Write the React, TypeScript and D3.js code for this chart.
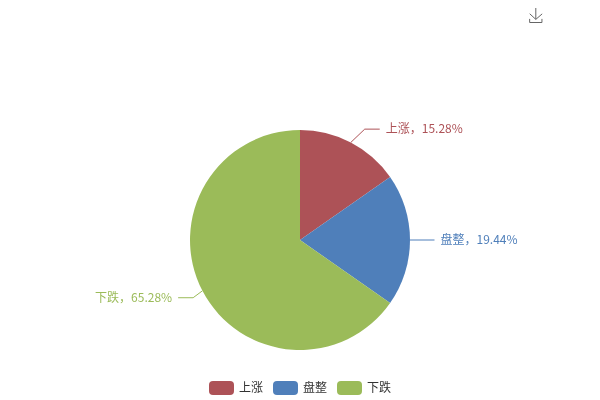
import React from 'react';
import * as d3 from 'd3';

const categories = ['上涨', '盘整', '下跌'];
const percents = [15.28, 19.44, 65.28];
const colors = ['#AD5257', '#4F7FBA', '#9BBB59'];

const width = 600;
const height = 400;
const cx = 300;
const cy = 240;
const radius = 110;
const font = '"Noto Sans CJK SC", "Noto Sans", sans-serif';

// horizontal shift of the elbow against the plain radial spot, and the flat run after it
const elbowShift = [7, 0, -4];
const flatRun = [15, 9.5, 15];

const App = () => {
  const pie = d3.pie<number>().sort(null)(percents);
  const arc = d3.arc<d3.PieArcDatum<number>>().innerRadius(0).outerRadius(radius);

  const legendX = d3.scalePoint<string>().domain(categories).range([209, 337]);

  const linePath = d3.line();

  return (
    <svg
      width={width}
      height={height}
      style={{ position: 'fixed', left: 0, top: 0, willChange: 'transform' }}
      fontFamily={font}
      fontSize={12}
    >
      <g transform={`translate(${cx},${cy})`}>
        {pie.map((d, i) => (
          <path key={categories[i]} d={arc(d) || ''} fill={colors[i]} />
        ))}
        {pie.map((d, i) => {
          const mid = (d.startAngle + d.endAngle) / 2;
          const sx = Math.sin(mid);
          const sy = -Math.cos(mid);
          const dir = sx >= 0 ? 1 : -1;
          const elbowX = sx * (radius + 15) + dir * elbowShift[i];
          const elbowY = sy * (radius + 15);
          const endX = elbowX + dir * flatRun[i];
          return (
            <g key={categories[i]}>
              <path
                d={linePath([
                  [sx * radius, sy * radius],
                  [elbowX, elbowY],
                  [endX, elbowY],
                ]) || ''}
                fill="none"
                stroke={colors[i]}
              />
              <text
                x={endX + dir * 6}
                y={elbowY}
                dy="0.35em"
                textAnchor={dir > 0 ? 'start' : 'end'}
                fill={colors[i]}
              >
                {`${categories[i]}，${percents[i].toFixed(2)}%`}
              </text>
            </g>
          );
        })}
      </g>

      {categories.map((c, i) => (
        <g key={c} transform={`translate(${legendX(c)},381)`}>
          <rect width={25} height={14} rx={4} fill={colors[i]} />
          <text x={30} y={7} dy="0.35em" fill="#333">
            {c}
          </text>
        </g>
      ))}

      {/* save as image icon */}
      <path
        transform="translate(528.5,8) scale(0.25)"
        d="M4.7,22.9L29.3,45.5L54.7,23.4M4.6,43.6L4.6,58L53.8,58L53.8,43.6M29.2,45.1L29.2,0"
        fill="none"
        stroke="#666"
        strokeWidth={4}
      />
    </svg>
  );
};

export default App;
